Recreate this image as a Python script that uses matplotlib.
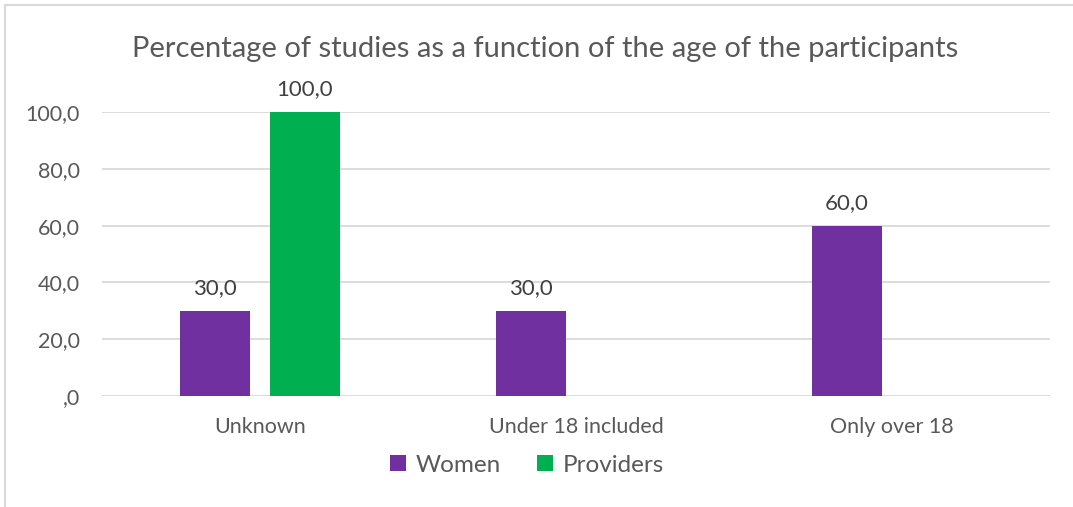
import matplotlib.pyplot as plt
import numpy as np
from matplotlib.patches import Rectangle

plt.rcParams['font.family'] = ['Lato', 'DejaVu Sans']

categories = ['Unknown', 'Under 18 included', 'Only over 18']
women = [30.0, 30.0, 60.0]
providers = [100.0, 0.0, 0.0]
yticks = [0, 20, 40, 60, 80, 100]

text_col = '#595959'
women_col = '#7030A0'
prov_col = '#00B050'

fig = plt.figure(figsize=(10.73, 5.07), dpi=100)
fig.patches.append(Rectangle((5 / 1073, -0.1), 1.2, (502 / 507) + 0.1, transform=fig.transFigure,
                             fill=False, edgecolor='#D9D9D9', linewidth=1.5))
ax = fig.add_axes([102 / 1073, 111 / 507, 948 / 1073, 284 / 507])

x = np.arange(len(categories))
w = 0.2215
off = 0.1424
b1 = ax.bar(x - off, women, w, color=women_col, label='Women', zorder=3)
b2 = ax.bar(x + off, providers, w, color=prov_col, label='Providers', zorder=3)

for bars, vals in [(b1, women), (b2, providers)]:
    for bar, v in zip(bars, vals):
        if v > 0:
            ax.annotate(f'{v:.1f}'.replace('.', ','), (bar.get_x() + bar.get_width() / 2, v),
                        xytext=(0, 9), textcoords='offset points', ha='center', va='bottom',
                        fontsize=16, color='#404040')

ax.set_xlim(-0.5, 2.5)
ax.set_ylim(0, 100)
ax.set_yticks(yticks)
ax.set_yticklabels([f'{t:.1f}'.replace('.', ',') if t else ',0' for t in yticks])
ax.set_xticks(x)
ax.set_xticklabels(categories)
ax.tick_params(axis='both', length=0, labelsize=15.5, labelcolor=text_col)
ax.tick_params(axis='y', pad=16)
ax.tick_params(axis='x', pad=15)
ax.grid(axis='y', color='#D9D9D9', linewidth=1.3, zorder=0)
for s in ax.spines.values():
    s.set_visible(False)

fig.text(545 / 1073, 1 - 49 / 507, 'Percentage of studies as a function of the age of the participants',
         ha='center', va='center', fontsize=21, color=text_col)
fig.legend(handles=[b1, b2], loc='center', bbox_to_anchor=(527 / 1073, 1 - 465 / 507), ncol=2,
           frameon=False, fontsize=17.5, labelcolor=text_col, handlelength=0.65, handleheight=0.65,
           handletextpad=0.4, columnspacing=1.5)

fig.savefig('out.png', dpi=100)
